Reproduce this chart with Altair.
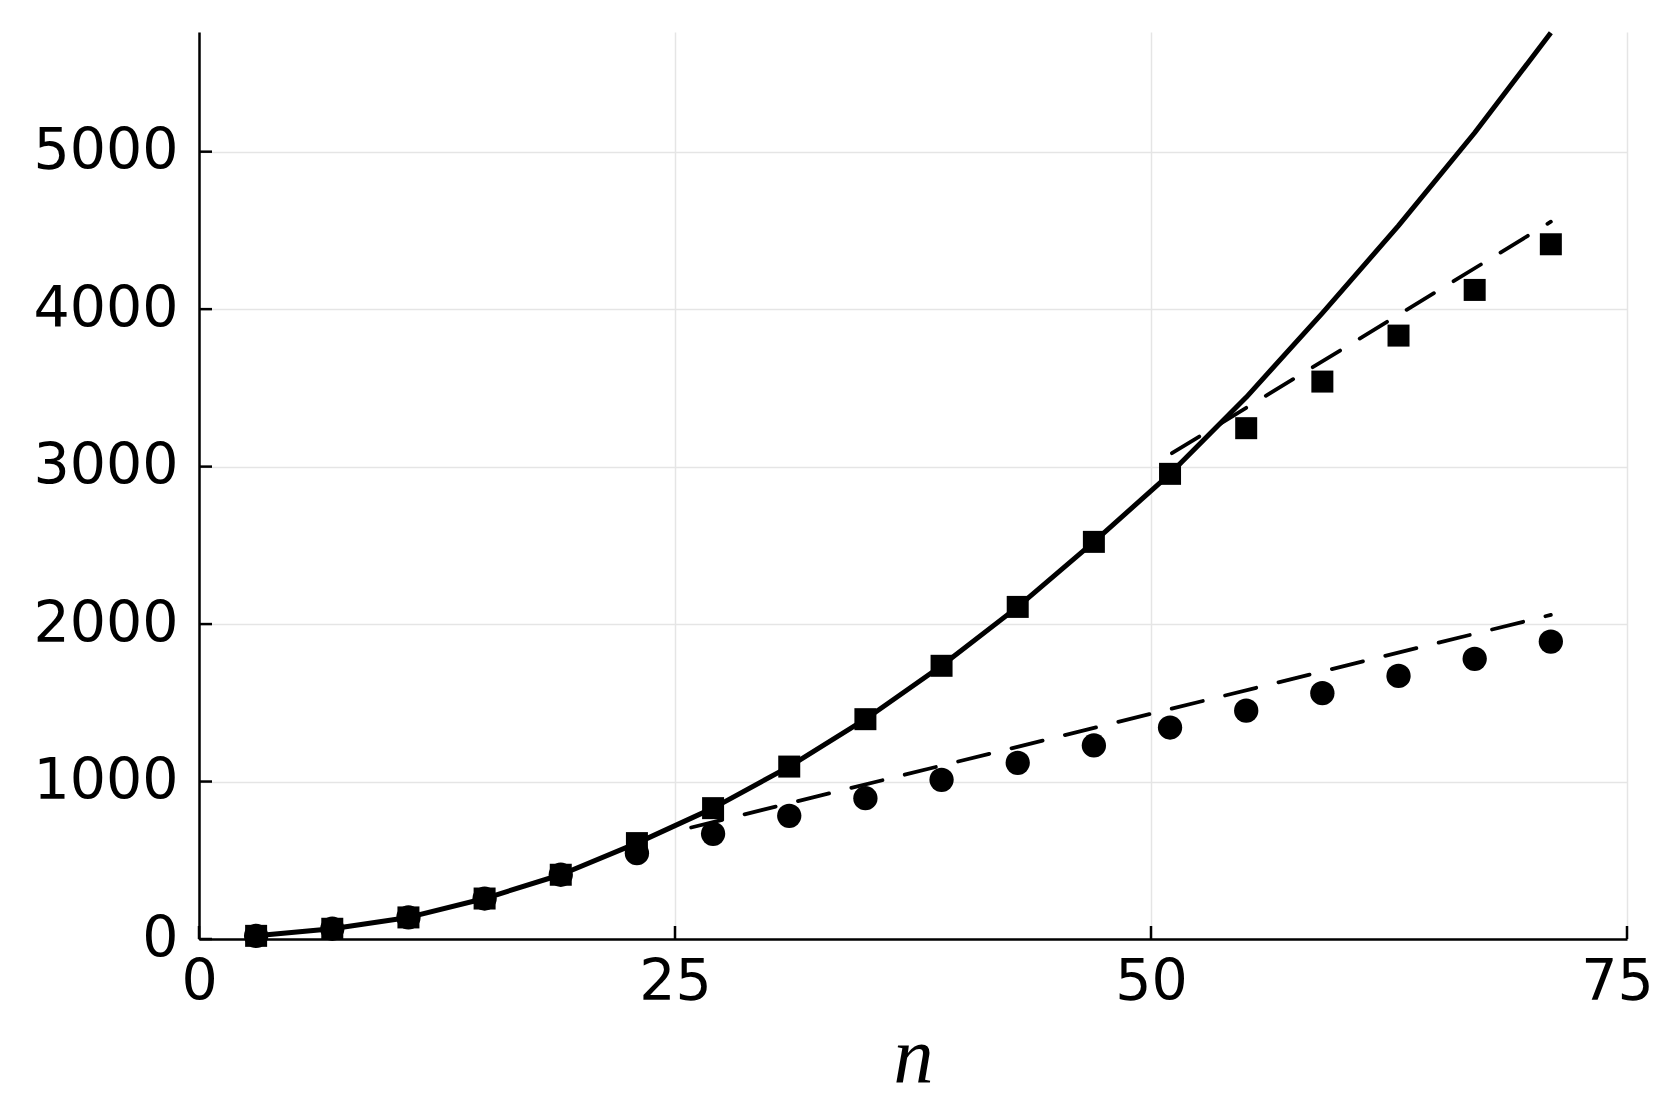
import altair as alt
import pandas as pd

n_vals = [3, 7, 11, 15, 19, 23, 27, 31, 35, 39, 43, 47, 51, 55, 59, 63, 67, 71]
square_vals = [20, 65, 137, 257, 408, 609, 831, 1095, 1396, 1735, 2109, 2522, 2954,
               3244, 3540, 3832, 4122, 4412]
circle_vals = [20, 65, 137, 257, 408, 545, 668, 782, 894, 1011, 1119, 1229, 1343,
               1450, 1561, 1671, 1779, 1889]
solid_vals = [20, 65, 137, 257, 408, 609, 831, 1095, 1396, 1735, 2109, 2522, 2954,
              3440, 3975, 4530, 5120, 5755]
upper_dash_n = [51.1, 71.0]
upper_dash_vals = [3085, 4555]
lower_dash_n = [25.85, 71.0]
lower_dash_vals = [708, 2058]
x_ticks = [0, 25, 50, 75]
y_ticks = [0, 1000, 2000, 3000, 4000, 5000]

W, H = 1428, 907

xs = alt.Scale(domain=[0, 75], nice=False, zero=False)
ys = alt.Scale(domain=[0, 5760], nice=False, zero=False)

x_axis = alt.Axis(values=x_ticks, title="n", titleFont="Liberation Serif",
                  titleFontStyle="italic", titleFontWeight="normal", titleFontSize=80,
                  titleColor="black", labelPadding=15, titlePadding=8,
                  labelFlush=False, labelOverlap=False, format="d",
                  labelOffset={"condition": {"test": "datum.value == 75", "value": -10},
                               "value": 0})
y_axis = alt.Axis(values=y_ticks, title=None, labelPadding=21, labelFlush=False,
                  labelOverlap=False, format="d")

df_solid = pd.DataFrame({"n": n_vals, "v": solid_vals})
df_sq = pd.DataFrame({"n": n_vals, "v": square_vals})
df_ci = pd.DataFrame({"n": n_vals, "v": circle_vals})
df_up = pd.DataFrame({"n": upper_dash_n, "v": upper_dash_vals})
df_lo = pd.DataFrame({"n": lower_dash_n, "v": lower_dash_vals})
df_xt = pd.DataFrame({"n": x_ticks})
df_yt = pd.DataFrame({"v": y_ticks})

X = alt.X("n:Q", scale=xs, axis=x_axis, title="n")
Y = alt.Y("v:Q", scale=ys, axis=y_axis, title=None)

solid = alt.Chart(df_solid).mark_line(color="black", strokeWidth=5, strokeJoin="round").encode(x=X, y=Y)

dash_style = dict(color="black", strokeWidth=3.8, strokeDash=[32, 23], strokeCap="round")
upper = alt.Chart(df_up).mark_line(**dash_style).encode(x=X, y=Y)
lower = alt.Chart(df_lo).mark_line(**dash_style).encode(x=X, y=Y)

circles = alt.Chart(df_ci).mark_point(shape="circle", filled=True, color="black",
                                       size=590, opacity=1).encode(x=X, y=Y)
squares = alt.Chart(df_sq).mark_point(shape="square", filled=True, color="black",
                                       size=484, opacity=1).encode(x=X, y=Y)

ytick_marks = alt.Chart(df_yt).mark_rule(color="black", strokeWidth=2.5).encode(
    y=Y, x=alt.value(0), x2=alt.value(13),
)
xtick_marks = alt.Chart(df_xt).mark_rule(color="black", strokeWidth=2.5).encode(
    x=X, y=alt.value(H), y2=alt.value(H - 13),
)

chart = alt.layer(solid, upper, lower, circles, squares, ytick_marks, xtick_marks).properties(
    width=W, height=H,
    autosize=alt.AutoSizeParams(type="none"),
    padding={"left": 191, "top": 24, "right": 26, "bottom": 160},
    background="white",
).configure_view(stroke=None).configure_axis(
    grid=True, gridColor="#e5e5e5", gridWidth=1.5,
    domainColor="black", domainWidth=2.5, ticks=False,
    labelFont="DejaVu Sans", labelFontSize=57, labelColor="black",
)

chart.save("out.html", embed_options={"renderer": "svg", "actions": False})
